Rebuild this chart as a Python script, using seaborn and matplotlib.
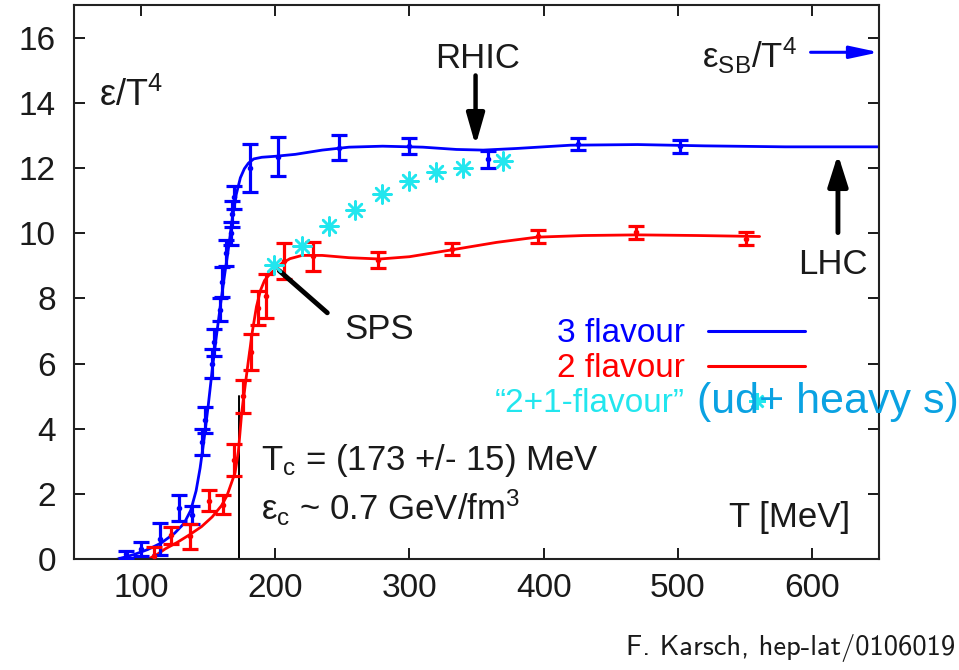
import matplotlib
matplotlib.use("Agg")
import matplotlib.pyplot as plt
from matplotlib.lines import Line2D
import numpy as np
import pandas as pd
import seaborn as sns

# ---- lattice QCD energy density data ----
# 3 flavour: measured points (T in MeV, eps/T^4, error)
t3 = [88.6, 100.3, 114.0, 128.5, 138.3, 145.5, 148.0, 153.0, 154.7, 158.8, 160.5,
      163.3, 166.8, 168.0, 169.5, 181.5, 202.0, 247.8, 299.5, 358.4, 426.0, 502.0]
e3 = [0.15, 0.32, 0.62, 1.58, 1.35, 3.6, 4.28, 6.0, 6.65, 7.65, 8.5,
      9.4, 10.0, 10.6, 11.1, 12.0, 12.35, 12.62, 12.67, 12.27, 12.73, 12.67]
err3 = [0.10, 0.22, 0.50, 0.40, 0.28, 0.40, 0.40, 0.45, 0.40, 0.35, 0.45,
        0.40, 0.35, 0.40, 0.35, 0.75, 0.60, 0.38, 0.25, 0.26, 0.18, 0.20]

# 2 flavour: measured points
t2 = [109.7, 122.1, 136.3, 150.7, 161.2, 169.4, 176.1, 181.9, 186.8, 193.3, 206.4,
      227.8, 276.9, 332.0, 396.0, 469.2, 551.2]
e2 = [0.10, 0.73, 0.70, 1.80, 1.68, 3.05, 5.0, 6.35, 7.7, 8.07, 9.15,
      9.29, 9.19, 9.52, 9.91, 10.03, 9.83]
err2 = [0.28, 0.25, 0.38, 0.32, 0.28, 0.50, 0.50, 0.55, 0.52, 0.67, 0.55,
        0.45, 0.25, 0.18, 0.20, 0.20, 0.20]

# 2+1 flavour points
t21 = [199.3, 219.6, 239.8, 259.5, 279.6, 299.5, 319.6, 339.8, 369.8]
e21 = [9.02, 9.62, 10.21, 10.71, 11.19, 11.6, 11.88, 12.01, 12.21]

# fitted curves
c3_t = [82, 95, 105, 115, 125, 132, 137, 141, 144, 147, 150, 153, 156, 159, 162,
        165, 168, 171, 174, 177, 180, 184, 190, 200, 215, 235, 255, 280, 310,
        335, 355, 380, 420, 470, 520, 580, 650]
c3_e = [0.0, 0.15, 0.3, 0.5, 0.8, 1.1, 1.5, 2.1, 2.8, 3.7, 4.7, 5.8, 6.8, 7.75, 8.65,
        9.5, 10.45, 11.2, 11.7, 11.98, 12.15, 12.28, 12.33, 12.36, 12.42, 12.55,
        12.64, 12.67, 12.64, 12.57, 12.55, 12.6, 12.7, 12.72, 12.68, 12.65, 12.65]
c2_t = [105, 112, 118, 127, 136, 145, 153, 160, 164, 167, 170, 172.5, 175, 177.5,
        180, 183, 186, 189, 192, 196, 200, 205, 211, 220, 235, 255, 278, 300, 330,
        365, 395, 430, 470, 515, 561]
c2_e = [0.0, 0.15, 0.32, 0.52, 0.75, 1.0, 1.3, 1.65, 1.95, 2.3, 2.65, 3.3, 4.5, 5.3,
        6.1, 7.0, 7.75, 8.25, 8.55, 8.75, 8.9, 9.08, 9.22, 9.32, 9.32, 9.25, 9.21,
        9.28, 9.48, 9.72, 9.88, 9.93, 9.95, 9.93, 9.9]

tc = 173          # critical temperature, MeV
eps_sb = 15.55    # Stefan-Boltzmann limit (3 flavour)

x_ticks = [100, 200, 300, 400, 500, 600]
y_ticks = [0, 2, 4, 6, 8, 10, 12, 14, 16]
legend_labels = ["3 flavour", "2 flavour", "\u201c2+1-flavour\u201d"]

BLUE = "#0000ff"
RED = "#ff0000"
CYAN = "#22e6ee"
INK = "#1a1a1a"

sns.set_theme(style="ticks")
plt.rcParams["font.family"] = ["Liberation Sans", "DejaVu Sans"]
plt.rcParams["mathtext.default"] = "regular"

fig = plt.figure(figsize=(9.59, 6.70), dpi=100)
ax = fig.add_axes([74 / 959, (670 - 559.3) / 670, (879 - 74) / 959, (559.3 - 5) / 670])

# smooth fit curves
sns.lineplot(x=c3_t, y=c3_e, ax=ax, color=BLUE, lw=2.0, sort=False, estimator=None, zorder=2)
sns.lineplot(x=c2_t, y=c2_e, ax=ax, color=RED, lw=2.0, sort=False, estimator=None, zorder=2)

# lattice points with error bars
ax.errorbar(t3, e3, yerr=err3, fmt="o", ms=3, color=BLUE, elinewidth=2.3,
            capsize=5.5, capthick=2.3, zorder=3)
ax.errorbar(t2, e2, yerr=err2, fmt="o", ms=3, color=RED, elinewidth=2.3,
            capsize=5.5, capthick=2.3, zorder=3)

# 2+1 flavour asterisks
sns.scatterplot(x=t21, y=e21, ax=ax, marker=(8, 2, 0), s=170, color=CYAN,
                edgecolor=CYAN, linewidth=1.8, zorder=4)

# Tc marker
ax.plot([tc, tc], [0, 5.0], color="black", lw=1.4, zorder=1)

ax.set_xlim(50, 650)
ax.set_ylim(0, 17)
ax.set_xticks(x_ticks)
ax.set_yticks(y_ticks)
ax.tick_params(axis="both", direction="in", length=8, width=1.4, colors=INK,
               labelsize=24, top=True, right=True)
ax.tick_params(axis="x", pad=10)
ax.tick_params(axis="y", pad=13)
for s in ax.spines.values():
    s.set_visible(True)
    s.set_color("#222222")
    s.set_linewidth(1.5)
ax.set_xlabel("")
ax.set_ylabel("")

FS = 25
ax.text(68.7, 13.9, r"ε/T$^{4}$", fontsize=26, color=INK, ha="left", va="baseline")
ax.text(350.7, 15.06, "RHIC", fontsize=FS, color=INK, ha="center", va="baseline")
ax.annotate("", xy=(349.3, 12.69), xytext=(349.3, 14.84),
            arrowprops=dict(arrowstyle="-|>,head_length=0.63,head_width=0.18",
                            color="black", lw=3.2, mutation_scale=30, shrinkA=0, shrinkB=0))
ax.text(588.8, 15.06, r"ε$_{SB}$/T$^{4}$", fontsize=FS, color=INK, ha="right", va="baseline")
ax.annotate("", xy=(650, eps_sb), xytext=(599, eps_sb),
            arrowprops=dict(arrowstyle="-|>,head_length=0.7,head_width=0.15",
                            color=BLUE, lw=2.2, mutation_scale=25, shrinkA=0, shrinkB=0),
            annotation_clip=False)
ax.text(615.7, 8.76, "LHC", fontsize=FS, color=INK, ha="center", va="baseline")
ax.annotate("", xy=(619.4, 12.42), xytext=(619.4, 10.02),
            arrowprops=dict(arrowstyle="-|>,head_length=0.63,head_width=0.2",
                            color="black", lw=3.5, mutation_scale=30, shrinkA=0, shrinkB=0))
ax.text(277.6, 6.77, "SPS", fontsize=FS, color=INK, ha="center", va="baseline")
ax.annotate("", xy=(203, 8.85), xytext=(238.8, 7.56),
            arrowprops=dict(arrowstyle="-", color="black", lw=3.5, shrinkA=0, shrinkB=0),
            zorder=3)
ax.text(189.6, 2.74, r"T$_{c}$ = (173 +/- 15) MeV", fontsize=FS, color=INK,
        ha="left", va="baseline")
ax.text(189.6, 1.21, r"ε$_{c}$ ~ 0.7 GeV/fm$^{3}$", fontsize=FS, color=INK,
        ha="left", va="baseline")
ax.text(628.4, 0.99, "T [MeV]", fontsize=FS, color=INK, ha="right", va="baseline")

# key, gnuplot style: text right-aligned before the sample
handles = [Line2D([], [], color=BLUE, lw=2.2),
           Line2D([], [], color=RED, lw=2.2),
           Line2D([], [], color=CYAN, ls="none", marker=(8, 2, 0), ms=12, mew=1.8)]
ax.legend(handles, legend_labels, markerfirst=False, frameon=False,
          loc="upper right", bbox_to_anchor=(0.908, 0.435), handlelength=2.9,
          handletextpad=0.7, labelspacing=0.12, borderpad=0, borderaxespad=0,
          fontsize=24, labelcolor=[BLUE, RED, CYAN])

fig.text(697 / 959, 1 - 402 / 670, "(ud+ heavy s)", fontsize=31, color="#0aa2e2",
         ha="left", va="center")
fig.text(955 / 959, 1 - 648 / 670, "F. Karsch, hep-lat/0106019", fontsize=20.5,
         family="cmss10", color=INK, ha="right", va="center")

fig.savefig("out.png", dpi=100)
